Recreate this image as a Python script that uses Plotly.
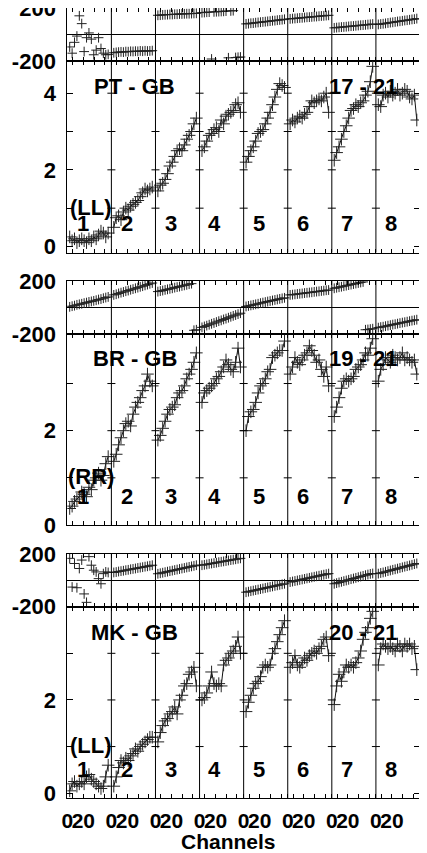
import plotly.graph_objects as go

# ---------------- data ----------------
CHANNELS = [3, 6, 9, 12, 15, 18, 21, 24, 27, 30, 33, 36, 39, 42, 45, 48, 51]
BAND_SPAN = 55
BAND_LABELS = ["1", "2", "3", "4", "5", "6", "7", "8"]
X_TICK_CHANNELS = [0, 20]
X_TICK_LABELS = ["0", "20"]
X_MINOR_CHANNELS = [6.67, 33.33, 46.67]
PHASE_TICKS = [-200, 0, 200]
PHASE_TICK_LABELS = ["-200", "", "200"]

BASELINES = ["PT - GB", "BR - GB", "MK - GB"]
POLARIZATIONS = ["(LL)", "(RR)", "(LL)"]
IF_RANGES = ["17 - 21", "19 - 21", "20 - 21"]

PT_GB_AMP = [
    [0.25, 0.15, 0.2, 0.1, 0.15, 0.2, 0.15, 0.1, 0.2, 0.15, 0.25, 0.2, 0.3, 0.4, 0.35, 0.25, 0.35],
    [0.5, 0.75, 0.8, 0.7, 0.9, 1.0, 0.95, 1.05, 1.1, 1.15, 1.2, 1.3, 1.4, 1.5, 1.45, 1.5, 1.55],
    [1.45, 1.6, 1.65, 1.75, 1.9, 2.1, 2.2, 2.35, 2.5, 2.55, 2.5, 2.65, 2.8, 2.9, 3.0, 3.2, 3.35],
    [2.5, 2.6, 2.75, 2.9, 2.95, 3.05, 3.1, 3.0, 3.3, 3.2, 3.4, 3.45, 3.5, 3.55, 3.7, 3.75, 3.5],
    [2.2, 2.35, 2.5, 2.6, 2.75, 2.95, 3.0, 3.05, 3.2, 3.35, 3.5, 3.7, 3.9, 4.1, 4.25, 4.2, 4.15],
    [3.2, 3.3, 3.25, 3.35, 3.4, 3.35, 3.45, 3.5, 3.65, 3.8, 3.75, 3.8, 3.85, 3.8, 3.9, 4.0, 3.5],
    [2.25, 2.45, 2.6, 2.8, 3.0, 3.15, 3.35, 3.55, 3.6, 3.7, 3.65, 3.75, 3.8, 3.95, 4.05, 4.3, 4.7],
    [3.7, 3.65, 3.95, 4.0, 3.9, 4.05, 3.95, 4.0, 4.1, 3.95, 4.0, 4.1, 4.05, 3.9, 3.85, 3.95, 3.3],
]
PT_GB_PHASE = [
    [-94, -141, -59, -12, 141, 82, -129, -24, 12, -35, -153, -118, -24, -106, -141, -153, -150],
    [-138, -135, -133, -131, -133, -129, -130, -127, -128, -126, -127, -124, -126, -123, -125, -124, -122],
    [145, 146, 148, 149, 150, 151, 151, 153, 153, 155, 155, 156, 157, 157, 158, 159, 160],
    [165, 166, 168, 169, -185, 171, 172, 173, 174, 175, 177, -176, 178, 180, -174, -172, -170],
    [80, 82, 85, 86, 89, 91, 93, 95, 97, 99, 101, 104, 105, 108, 110, 112, 115],
    [118, 120, 121, 123, 125, 126, 128, 130, 131, 133, 135, 136, 138, 140, 141, 143, 145],
    [50, 52, 54, 56, 57, 59, 61, 63, 64, 66, 68, 70, 71, 73, 75, 77, 79],
    [76, 79, 81, 84, 87, 90, 92, 95, 98, 100, 103, 106, 108, 111, 114, 116, 120],
]

BR_GB_AMP = [
    [0.35, 0.4, 0.5, 0.55, 0.6, 0.7, 0.65, 0.6, 0.8, 0.75, 0.95, 1.0, 1.1, 0.95, 1.05, 1.3, 1.45],
    [1.35, 1.5, 1.7, 1.85, 2.0, 2.15, 2.2, 2.1, 2.35, 2.5, 2.6, 2.7, 2.85, 2.95, 3.2, 3.05, 2.95],
    [1.8, 1.9, 2.05, 2.2, 2.35, 2.45, 2.5, 2.55, 2.7, 2.8, 2.85, 2.95, 3.1, 3.2, 3.3, 3.45, 3.65],
    [2.6, 2.8, 2.85, 2.9, 2.95, 3.0, 3.1, 3.15, 3.25, 3.35, 3.5, 3.4, 3.3, 3.25, 3.45, 3.75, 3.35],
    [2.0, 2.3, 2.4, 2.45, 2.6, 2.8, 2.95, 3.0, 3.1, 3.25, 3.3, 3.55, 3.6, 3.65, 3.7, 3.7, 3.9],
    [3.2, 3.35, 3.55, 3.45, 3.4, 3.5, 3.6, 3.65, 3.8, 3.7, 3.6, 3.45, 3.5, 3.3, 3.15, 3.35, 2.95],
    [2.3, 2.5, 2.7, 2.9, 3.05, 3.1, 3.05, 3.1, 3.15, 3.3, 3.35, 3.4, 3.5, 3.65, 3.6, 3.75, 3.95],
    [3.05, 3.3, 3.4, 3.55, 3.5, 3.45, 3.6, 3.55, 3.5, 3.55, 3.65, 3.5, 3.55, 3.5, 3.45, 3.5, 3.2],
]
BR_GB_PHASE = [
    [5, 10, 14, 20, 24, 28, 33, 37, 42, 46, 50, 55, 60, 64, 70, 75, 80],
    [95, 100, 106, 112, 117, 123, 128, 134, 139, 145, 150, 156, 161, 167, 173, 179, 185],
    [120, 124, 128, 133, 137, 141, 145, 150, 154, 158, 163, 167, 171, 176, 180, -172, -168],
    [-150, -143, -137, -130, -123, -117, -110, -103, -97, -90, -84, -77, -70, -63, -57, -50, -43],
    [8, 12, 16, 20, 24, 28, 33, 37, 41, 45, 49, 53, 57, 61, 65, 69, 73],
    [95, 97, 99, 102, 104, 106, 109, 111, 113, 115, 118, 120, 122, 125, 127, 130, 132],
    [145, 149, 153, 157, 161, 165, 169, 173, 177, 181, 185, 189, 193, -168, -166, -163, -160],
    [-152, -148, -145, -141, -137, -133, -129, -126, -122, -118, -114, -111, -107, -103, -99, -96, -92],
]

MK_GB_AMP = [
    [0.05, 0.2, 0.25, 0.15, 0.2, 0.25, 0.2, 0.35, 0.4, 0.3, 0.25, 0.2, 0.15, 0.1, 0.15, 0.35, 0.6],
    [0.15, 0.35, 0.55, 0.7, 0.65, 0.75, 0.7, 0.8, 0.85, 0.95, 0.9, 1.0, 1.05, 1.1, 1.15, 1.2, 1.2],
    [1.1, 1.3, 1.45, 1.55, 1.6, 1.7, 1.75, 1.85, 1.7, 2.0, 2.1, 2.3, 2.35, 2.55, 2.6, 2.7, 2.3],
    [2.0, 2.05, 2.15, 2.3, 2.6, 2.35, 2.3, 2.35, 2.3, 2.75, 2.85, 2.9, 3.0, 3.05, 3.15, 3.35, 3.0],
    [1.75, 1.95, 2.1, 2.25, 2.35, 2.4, 2.5, 2.7, 2.75, 2.7, 2.75, 3.0, 3.1, 3.25, 3.4, 3.55, 3.7],
    [2.7, 2.8, 2.95, 2.75, 2.7, 2.8, 2.9, 2.85, 2.95, 3.0, 3.05, 3.0, 3.1, 3.15, 3.3, 3.35, 2.95],
    [1.9, 2.3, 2.55, 2.4, 2.6, 2.75, 2.7, 2.75, 2.7, 2.8, 2.9, 3.05, 3.3, 3.45, 3.55, 3.75, 3.9],
    [2.75, 3.1, 3.2, 3.15, 3.1, 3.15, 3.1, 3.05, 3.2, 3.15, 3.05, 3.2, 3.15, 3.2, 3.1, 3.15, 2.65],
]
MK_GB_PHASE = [
    [167, -51, 128, -56, 90, 154, -103, -167, 180, 115, 77, 64, 13, -26, 51, 64, 60],
    [60, 63, 67, 70, 73, 77, 80, 84, 87, 90, 94, 97, 100, 104, 107, 111, 115],
    [50, 54, 58, 62, 66, 70, 74, 78, 82, 86, 90, 94, 98, 102, 106, 110, 115],
    [115, 118, 121, 125, 128, 131, 134, 138, 141, 144, 147, 151, 154, 157, 160, 164, 167],
    [-90, -86, -82, -78, -74, -70, -66, -62, -58, -54, -50, -46, -42, -38, -34, -30, -26],
    [-13, -9, -5, -1, 3, 7, 11, 15, 19, 23, 27, 31, 35, 39, 43, 47, 51],
    [-26, -21, -16, -11, -6, -1, 4, 9, 14, 19, 24, 29, 34, 39, 44, 49, 52],
    [51, 56, 60, 65, 70, 75, 80, 84, 89, 94, 99, 104, 108, 113, 118, 123, 128],
]

AMP_SERIES = [PT_GB_AMP, BR_GB_AMP, MK_GB_AMP]
PHASE_SERIES = [PT_GB_PHASE, BR_GB_PHASE, MK_GB_PHASE]

# ---------------- layout geometry (page pixels; page body has an 8px margin) ----------------
PAGE_OFF = 8
W, H = 427 - PAGE_OFF, 853 - PAGE_OFF
XDOM = [(67.3 - PAGE_OFF) / W, (420.0 - PAGE_OFF) / W]
PANELS_PX = [(8, 61), (61, 252.5), (281, 334), (334, 525), (554, 606.7), (606.7, 798.3)]
AMP_RANGES = [[-0.157, 4.84], [0.0, 4.05], [-0.11, 4.0]]
AMP_TICKS = [[0, 2, 4], [0, 2], [0, 2]]
LABEL_Y = [0.6, 0.6, 0.5]
TITLE_Y = [4.18, 3.53, 3.45]
FONT = "Liberation Sans, Arial, sans-serif"
NB = len(BAND_LABELS)


def dom(top, bottom):
    return [max(0.0, 1 - (bottom - PAGE_OFF) / H), min(1.0, 1 - (top - PAGE_OFF) / H)]


def sfx(n):
    return "" if n == 1 else str(n)


fig = go.Figure()
shapes = []
annotations = []

for g in range(3):
    for kind in range(2):  # 0 = phase, 1 = amplitude
        n = 2 * g + kind + 1
        xr, yr = "x" + sfx(n), "y" + sfx(n)
        xs, ys = [], []
        series = PHASE_SERIES[g] if kind == 0 else AMP_SERIES[g]
        for b in range(NB):
            xs += [BAND_SPAN * b + c for c in CHANNELS] + [None]
            ys += list(series[b]) + [None]
        if kind == 0:
            fig.add_trace(go.Scatter(
                x=xs, y=ys, mode="markers", xaxis=xr, yaxis=yr,
                marker=dict(symbol="cross-thin", size=7, line=dict(width=1, color="#222")),
                showlegend=False, hoverinfo="skip"))
        else:
            fig.add_trace(go.Scatter(
                x=xs, y=ys, mode="lines+markers", xaxis=xr, yaxis=yr,
                line=dict(color="#111", width=1),
                marker=dict(symbol="cross-thin", size=9, line=dict(width=1, color="#222")),
                showlegend=False, hoverinfo="skip"))

        tickvals = [BAND_SPAN * b + t for b in range(NB) for t in X_TICK_CHANNELS]
        ticktext = [lab for b in range(NB) for lab in X_TICK_LABELS]
        minorvals = [BAND_SPAN * b + t for b in range(NB) for t in X_MINOR_CHANNELS]
        show_xlabels = (g == 2 and kind == 1)
        xax = dict(
            domain=XDOM, range=[0, BAND_SPAN * NB], anchor=yr, automargin=False,
            showline=True, linecolor="black", linewidth=1, mirror="ticks",
            ticks="inside", ticklen=4, tickwidth=1, tickcolor="black",
            tickmode="array", tickvals=tickvals, ticktext=ticktext, tickangle=0,
            showticklabels=show_xlabels, ticklabelstandoff=3, ticklabeloverflow="allow",
            tickfont=dict(family=FONT, size=21, color="black", weight="bold"),
            minor=dict(tickmode="array", tickvals=minorvals, ticks="inside",
                       ticklen=4, tickwidth=1, tickcolor="black"),
            showgrid=False, zeroline=False, fixedrange=True)
        top, bottom = PANELS_PX[n - 1]
        if kind == 0:
            yax = dict(
                domain=dom(top, bottom), range=[-200, 200], anchor=xr,
                tickmode="array", tickvals=PHASE_TICKS, ticktext=PHASE_TICK_LABELS,
                showgrid=True, gridcolor="black", gridwidth=1)
        else:
            yax = dict(
                domain=dom(top, bottom), range=AMP_RANGES[g], anchor=xr,
                tickmode="array", tickvals=AMP_TICKS[g],
                ticktext=[str(v) for v in AMP_TICKS[g]],
                minor=dict(tickmode="array", tickvals=[1, 3], ticks="inside",
                           ticklen=6, tickwidth=1, tickcolor="black"),
                showgrid=False)
        yax.update(dict(
            showline=True, linecolor="black", linewidth=1, mirror="ticks", automargin=False,
            ticks="inside", ticklen=6, tickwidth=1, tickcolor="black", tickangle=0,
            ticklabelstandoff=6, ticklabeloverflow="allow", zeroline=False, fixedrange=True,
            tickfont=dict(family=FONT, size=22, color="black", weight="bold")))
        fig.layout["xaxis" + sfx(n)] = xax
        fig.layout["yaxis" + sfx(n)] = yax

        # band separators
        for b in range(1, NB):
            shapes.append(dict(type="line", xref=xr, yref=yr + " domain",
                               x0=BAND_SPAN * b, x1=BAND_SPAN * b, y0=0, y1=1,
                               line=dict(color="black", width=1)))
            if kind == 1:
                for lev in [1, 2, 3, 4]:
                    if lev < AMP_RANGES[g][1] - 0.1:
                        shapes.append(dict(type="line", xref=xr, yref=yr,
                                           x0=BAND_SPAN * b - 5, x1=BAND_SPAN * b + 5,
                                           y0=lev, y1=lev,
                                           line=dict(color="black", width=1)))

    # text labels in amplitude panel
    n = 2 * g + 2
    xr, yr = "x" + sfx(n), "y" + sfx(n)
    tf = dict(family=FONT, size=22, color="black", weight="bold")
    annotations.append(dict(text=BASELINES[g], x=84, y=TITLE_Y[g], xref=xr, yref=yr,
                            showarrow=False, font=tf))
    annotations.append(dict(text=IF_RANGES[g], x=369, y=TITLE_Y[g], xref=xr, yref=yr,
                            showarrow=False, font=tf))
    annotations.append(dict(text=POLARIZATIONS[g], x=29, y=1.03, xref=xr, yref=yr,
                            showarrow=False, font=tf))
    for b in range(NB):
        annotations.append(dict(text=BAND_LABELS[b], x=BAND_SPAN * b + 19, y=LABEL_Y[g],
                                xref=xr, yref=yr, showarrow=False, font=tf))

annotations.append(dict(text="Channels", x=(228 - PAGE_OFF) / W, y=1 - (841 - PAGE_OFF) / H,
                        xref="paper", yref="paper", xanchor="center", yanchor="middle",
                        showarrow=False,
                        font=dict(family=FONT, size=21, color="black", weight="bold")))

fig.update_layout(
    width=W, height=H, autosize=False,
    margin=dict(l=0, r=0, t=0, b=0, autoexpand=False),
    paper_bgcolor="white", plot_bgcolor="white",
    shapes=shapes, annotations=annotations, showlegend=False)

fig.write_html("out.html")
